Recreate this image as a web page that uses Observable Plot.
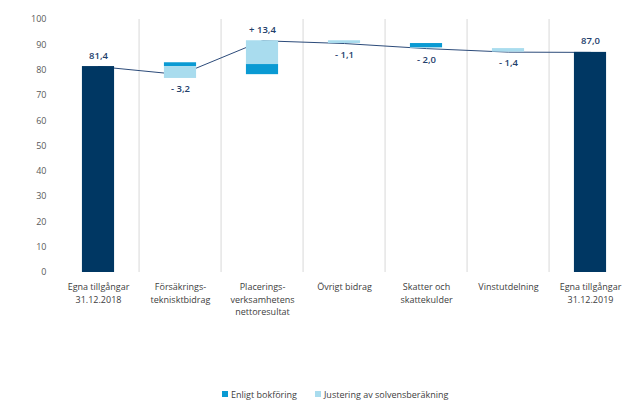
<!DOCTYPE html>
<html>
<head>
<meta charset="utf-8">
<script src="https://cdn.jsdelivr.net/npm/d3@7"></script>
<script src="https://cdn.jsdelivr.net/npm/@observablehq/plot@0.6"></script>
<style>
  html, body { margin: 0; padding: 0; background: #fff; }
  body { width: 624px; height: 400px; overflow: hidden; font-family: "Open Sans", sans-serif; }
  #legend { display: flex; align-items: center; height: 12px; margin-left: 222px; font-size: 9px; color: #404040; }
  #legend .item { display: flex; align-items: center; margin-right: 18px; }
  #legend .sw { width: 6px; height: 6px; margin-right: 3px; display: inline-block; }
</style>
</head>
<body>
<div id="chart"></div>
<div id="legend"></div>
<script>
// ---- Data ----
const categories = [
  "Egna tillgångar\n31.12.2018",
  "Försäkrings-\nteknisktbidrag",
  "Placerings-\nverksamhetens\nnettoresultat",
  "Övrigt bidrag",
  "Skatter och\nskattekulder",
  "Vinstutdelning",
  "Egna tillgångar\n31.12.2019"
];
const totals = [81.4, null, null, null, null, null, 87.0];          // start / end bars
const bokforing = [null, 1.5, 4.0, 0, -1.7, 0, null];               // Enligt bokföring
const justering = [null, -4.7, 9.4, -1.1, -0.3, -1.4, null];        // Justering av solvensberäkning
const changeLabels = [null, "- 3,2", "+ 13,4", "- 1,1", "- 2,0", "- 1,4", null];
const totalLabels = ["81,4", null, null, null, null, null, "87,0"];
const seriesNames = ["Enligt bokföring", "Justering av solvensberäkning"];
const yTicks = [0, 10, 20, 30, 40, 50, 60, 70, 80, 90, 100];

const colors = { total: "#003763", bok: "#0a9ad3", jus: "#a9dcee", label: "#23406b", line: "#2c4b7a", grid: "#d9d9d9", text: "#404040" };

// ---- Build segments (positive parts stack up, negative down, from previous level) ----
const segments = [];
const levels = [];
const labels = [];
let level = 0;
categories.forEach((c, i) => {
  if (totals[i] != null) {
    level = totals[i];
    segments.push({ c, y1: 0, y2: totals[i], kind: "total" });
    labels.push({ c, y: totals[i], text: totalLabels[i], pos: true });
  } else {
    let up = level, down = level;
    const parts = [["bok", bokforing[i]], ["jus", justering[i]]];
    for (const [kind, v] of parts) {
      if (!v) continue;
      if (v > 0) { segments.push({ c, y1: up, y2: up + v, kind }); up += v; }
      else { segments.push({ c, y1: down, y2: down + v, kind }); down += v; }
    }
    const delta = bokforing[i] + justering[i];
    labels.push({ c, y: delta > 0 ? up : down, text: changeLabels[i], pos: delta > 0 });
    level = level + delta;
  }
  levels.push({ c, y: level });
});

const W = 624, H = 388, ML = 54, MR = -10;
const bw = (W - ML - MR) / categories.length;
const barInset = (bw - 33) / 2;

const chart = Plot.plot({
  width: W,
  height: H,
  marginLeft: ML,
  marginRight: MR,
  marginTop: 19,
  marginBottom: H - 272,
  style: { fontFamily: "'Open Sans', sans-serif", background: "#fff", overflow: "hidden" },
  x: { type: "band", domain: categories, padding: 0, axis: null },
  y: { domain: [0, 100], axis: null },
  marks: [
    Plot.gridY(yTicks, { stroke: colors.grid, strokeOpacity: 1, x1: ML - 4 }),
    Plot.ruleX(categories.slice(1), { x: d => d, dx: -bw / 2, y1: 0, y2: 100, stroke: colors.grid, strokeOpacity: 1 }),
    Plot.ruleY([0], { stroke: colors.grid, strokeWidth: 1.2, x1: ML - 4 }),
    Plot.axisY(yTicks, { tickSize: 0, tickPadding: 8, fontSize: 9, fill: "#595959" }),
    Plot.line(levels, { x: "c", y: "y", stroke: colors.line, strokeWidth: 1 }),
    Plot.barY(segments, {
      x: "c", y1: "y1", y2: "y2",
      fill: d => colors[d.kind],
      insetLeft: barInset, insetRight: barInset
    }),
    Plot.text(labels.filter(d => d.pos), { x: "c", y: "y", text: "text", dy: -11, fill: colors.label, fontWeight: 600, fontSize: 9.5 }),
    Plot.text(labels.filter(d => !d.pos), { x: "c", y: "y", text: "text", dy: 11, fill: colors.label, fontWeight: 600, fontSize: 9.5 }),
    Plot.text(categories, { x: d => d, frameAnchor: "bottom", lineAnchor: "top", dy: 9, lineHeight: 1.38, fontSize: 9, fill: colors.text, text: d => d })
  ]
});
document.getElementById("chart").appendChild(chart);

const legend = document.getElementById("legend");
[[seriesNames[0], colors.bok], [seriesNames[1], colors.jus]].forEach(([name, col]) => {
  const it = document.createElement("span");
  it.className = "item";
  it.innerHTML = `<span class="sw" style="background:${col}"></span><span>${name}</span>`;
  legend.appendChild(it);
});
</script>
</body>
</html>
